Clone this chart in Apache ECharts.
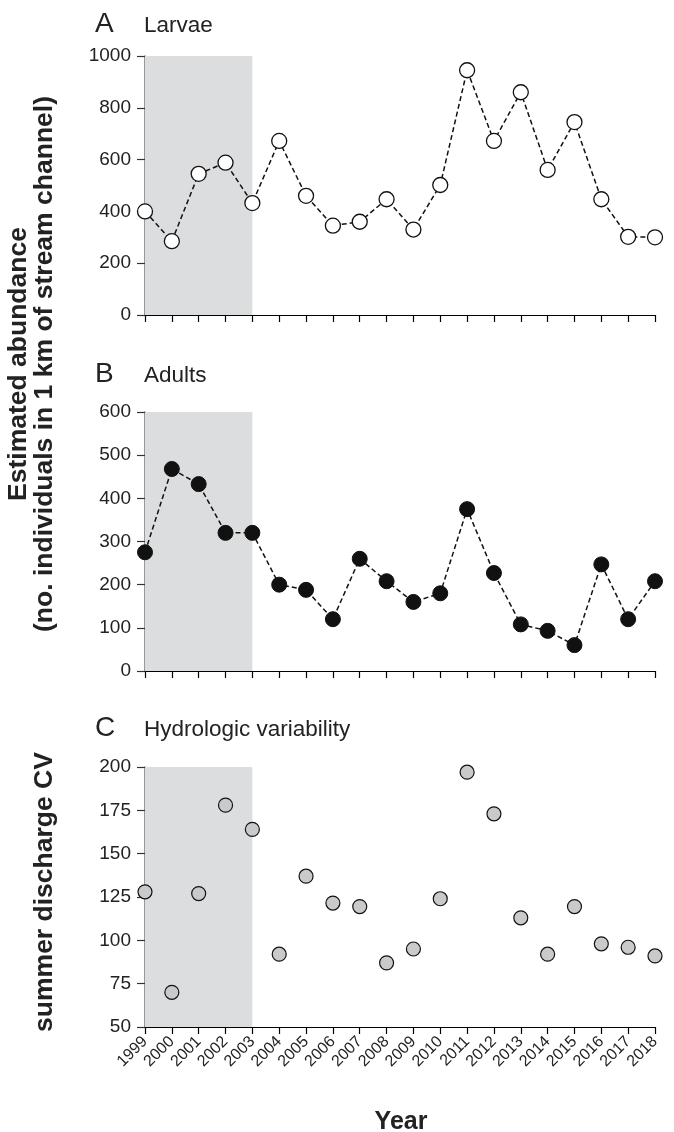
<!DOCTYPE html>
<html>
<head>
<meta charset="utf-8">
<script src="https://cdn.jsdelivr.net/npm/echarts@6/dist/echarts.min.js"></script>
<style>
  html, body { margin: 0; padding: 0; background: #fff; }
  #main { width: 674px; height: 1132px; }
</style>
</head>
<body>
<div id="main"></div>
<script>
var myChart = echarts.init(document.getElementById('main'));

var years = [1999, 2000, 2001, 2002, 2003, 2004, 2005, 2006, 2007, 2008,
             2009, 2010, 2011, 2012, 2013, 2014, 2015, 2016, 2017, 2018];
var larvae = [400, 285, 545, 588, 432, 672, 460, 345, 360, 447,
              330, 502, 945, 672, 860, 560, 745, 447, 302, 300];
var adults = [275, 468, 433, 320, 320, 200, 188, 120, 260, 208,
              160, 180, 375, 227, 108, 93, 60, 247, 120, 208];
var dischargeCV = [128, 70, 127, 178, 164, 92, 137, 121.5, 119.5, 87,
                   95, 124, 197, 173, 113, 92, 119.5, 98, 96, 91];
var shadedYears = [1999, 2003];

var font = "'Liberation Sans', Arial, sans-serif";

function pairs(vals) {
    return years.map(function (y, i) { return [y, vals[i]]; });
}

function xAxisFor(idx, showLabels) {
    return {
        type: 'value',
        gridIndex: idx,
        min: 1999,
        max: 2018,
        interval: 1,
        axisLine: { show: true, lineStyle: { color: '#000', width: 1.2 } },
        axisTick: { show: true, length: 7, lineStyle: { color: '#000', width: 1.2 } },
        splitLine: { show: false },
        axisLabel: {
            show: showLabels,
            rotate: 45,
            margin: 12,
            fontFamily: font,
            fontSize: 16,
            color: '#222',
            formatter: function (v) { return String(v); }
        }
    };
}

function yAxisFor(idx, min, max, interval) {
    return {
        type: 'value',
        gridIndex: idx,
        min: min,
        max: max,
        interval: interval,
        axisLine: { show: true, lineStyle: { color: '#777', width: 1.5 } },
        axisTick: { show: true, length: 8, lineStyle: { color: '#333', width: 1.2 } },
        splitLine: { show: false },
        axisLabel: {
            margin: 14,
            fontFamily: font,
            fontSize: 19,
            color: '#222',
            formatter: function (v) { return String(v); }
        }
    };
}

function shade(ymin, ymax) {
    return {
        silent: true,
        itemStyle: { color: '#dcdddf' },
        data: [[{ xAxis: shadedYears[0], yAxis: ymin }, { xAxis: shadedYears[1], yAxis: ymax }]]
    };
}

function panelTitle(letter, label, top) {
    return [
        { text: letter, left: 90, top: top, textStyle: { fontFamily: font, fontSize: 28, fontWeight: 'normal', color: '#222' } },
        { text: label, left: 139, top: top + 4, textStyle: { fontFamily: font, fontSize: 22.5, fontWeight: 'normal', color: '#222' } }
    ];
}

function vText(text, x, y) {
    return {
        type: 'text', x: x, y: y, rotation: Math.PI / 2,
        style: {
            text: text, fontFamily: font, fontSize: 26.5, fontWeight: 'bold',
            fill: '#222', align: 'center', verticalAlign: 'middle'
        }
    };
}

option = {
    backgroundColor: '#fff',
    animation: false,
    title: [].concat(
        panelTitle('A', 'Larvae', 5),
        panelTitle('B', 'Adults', 355),
        panelTitle('C', 'Hydrologic variability', 709)
    ),
    grid: [
        { left: 145, right: 19, top: 56, height: 259 },
        { left: 145, right: 19, top: 412, height: 259 },
        { left: 145, right: 19, top: 767, height: 260 }
    ],
    xAxis: [xAxisFor(0, false), xAxisFor(1, false), xAxisFor(2, true)],
    yAxis: [yAxisFor(0, 0, 1000, 200), yAxisFor(1, 0, 600, 100), yAxisFor(2, 50, 200, 25)],
    graphic: [
        vText('Estimated abundance', 19, 364),
        vText('(no. individuals in 1 km of stream channel)', 45, 364),
        vText('summer discharge CV', 45, 892),
        {
            type: 'text', x: 401, y: 1122,
            style: {
                text: 'Year', fontFamily: font, fontSize: 25, fontWeight: 'bold',
                fill: '#222', align: 'center', verticalAlign: 'middle'
            }
        }
    ],
    series: [
        {
            name: 'Larvae',
            type: 'line',
            xAxisIndex: 0,
            yAxisIndex: 0,
            data: pairs(larvae),
            symbol: 'circle',
            symbolSize: 15,
            lineStyle: { color: '#111', width: 1.5, type: [5, 3] },
            itemStyle: { color: '#fff', borderColor: '#111', borderWidth: 1.3 },
            markArea: shade(0, 1000),
            z: 3
        },
        {
            name: 'Adults',
            type: 'line',
            xAxisIndex: 1,
            yAxisIndex: 1,
            data: pairs(adults),
            symbol: 'circle',
            symbolSize: 15,
            lineStyle: { color: '#111', width: 1.5, type: [5, 3] },
            itemStyle: { color: '#111', borderColor: '#111', borderWidth: 1 },
            markArea: shade(0, 600),
            z: 3
        },
        {
            name: 'Hydrologic variability',
            type: 'scatter',
            xAxisIndex: 2,
            yAxisIndex: 2,
            data: pairs(dischargeCV),
            symbol: 'circle',
            symbolSize: 14,
            itemStyle: { color: '#c9cacc', borderColor: '#111', borderWidth: 1.2, opacity: 1 },
            markArea: shade(50, 200),
            z: 3
        }
    ]
};

myChart.setOption(option);
</script>
</body>
</html>
